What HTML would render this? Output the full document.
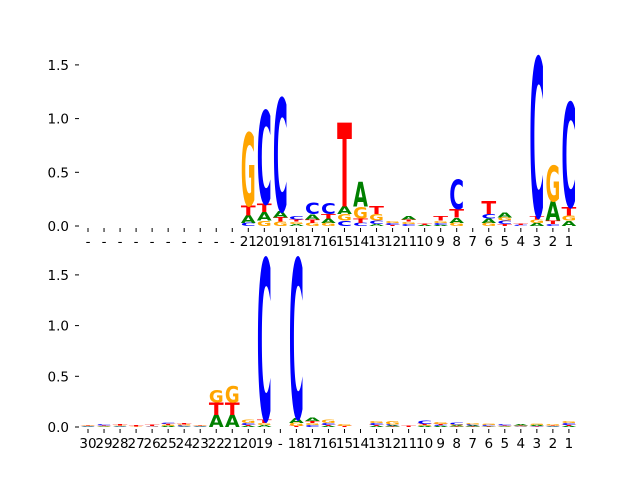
<!DOCTYPE html>
<html><head><meta charset="utf-8">
<style>
html,body{margin:0;padding:0;background:#fff;}
svg{display:block;}
text{font-family:"DejaVu Sans","Liberation Sans",sans-serif;}
</style></head>
<body>
<svg id="chart" width="640" height="480" viewBox="0 0 640 480" xmlns="http://www.w3.org/2000/svg"></svg>
<script>
// ---------- data ----------
const topLabels = ["-","-","-","-","-","-","-","-","-","-","21","20","19","18","17","16","15","14","13","12","11","10","9","8","7","6","5","4","3","2","1"];
const topA = [0,0,0,0,0,0,0,0,0,0,0.07,0.08,0.06,0.02,0.05,0.04,0.07,0.23,0.02,0.0,0.03,0.01,0.01,0.05,0,0.04,0.05,0,0.03,0.18,0.05];
const topC = [0,0,0,0,0,0,0,0,0,0,0.03,0.87,1.05,0.03,0.11,0.10,0.05,0.03,0.03,0.02,0.02,0.0,0.02,0.27,0,0.04,0.03,0.01,1.48,0.02,0.97];
const topG = [0,0,0,0,0,0,0,0,0,0,0.68,0.05,0.04,0.02,0.03,0.03,0.06,0.11,0.06,0.02,0.02,0.0,0.02,0.03,0,0.03,0.03,0,0.03,0.33,0.05];
const topT = [0,0,0,0,0,0,0,0,0,0,0.09,0.08,0.04,0.02,0.03,0.04,0.78,0.04,0.07,0.01,0.02,0.01,0.04,0.08,0,0.12,0.02,0.01,0.03,0.03,0.08];

const botLabels = ["30","29","28","27","26","25","24","23","22","21","20","19","-","18","17","16","15","14","13","12","11","10","9","8","7","6","5","4","3","2","1"];
const botA = [0.005,0.005,0.005,0,0,0.01,0.005,0.005,0.12,0.12,0.01,0.02,0,0.05,0.03,0.01,0,0,0.01,0.01,0,0.01,0.01,0.01,0.01,0.005,0.005,0.01,0.01,0.005,0.01];
const botC = [0.005,0.01,0.005,0,0.005,0.015,0.01,0.005,0,0,0.02,1.59,0,1.57,0.02,0.02,0,0,0.02,0.01,0,0.03,0.01,0.02,0.01,0.01,0.01,0.005,0.005,0.005,0.02];
const botG = [0.005,0.005,0.005,0.005,0.005,0.01,0.01,0.005,0.122,0.16,0.03,0.02,0,0.03,0.02,0.03,0.02,0,0.02,0.03,0,0.01,0.02,0.01,0.01,0.01,0.005,0.005,0.01,0.01,0.02];
const botT = [0.005,0.005,0.01,0.01,0.01,0.01,0.01,0.005,0.121,0.121,0.01,0.03,0,0.01,0.02,0.01,0.01,0,0.01,0.005,0.01,0.01,0.01,0.005,0.005,0.005,0.005,0.005,0.005,0.005,0.01];

const yTicks = [0, 0.5, 1.0, 1.5];
const yTickLabels = ["0.0","0.5","1.0","1.5"];

// ---------- drawing ----------
const NS = "http://www.w3.org/2000/svg";
const svg = document.getElementById("chart");
const colors = {A:"#008000", C:"#0000ff", G:"#ffa500", T:"#ff0000"};
const x0 = 88, dx = 16.03, colW = 14.8;

function mk(tag, attrs, parent){
  const e = document.createElementNS(NS, tag);
  for (const k in attrs) e.setAttribute(k, attrs[k]);
  (parent || svg).appendChild(e);
  return e;
}

function panel(name, baseY, pxPerUnit, labels, A, C, G, T, labelY){
  const g = mk("g", {});
  
  
  const xs = i => x0 + i*dx;
  const ys = v => baseY - v*pxPerUnit;
  yTicks.forEach((v, k) => {
    const t = mk("line", {x1:75, x2:79, y1:ys(v), y2:ys(v), stroke:"#000", "stroke-width":1}, g);
    
    
    const tl = mk("text", {x:69, y:ys(v)+5, "text-anchor":"end", "font-size":"13.5"}, g);
    tl.textContent = yTickLabels[k];
    
    
  });
  labels.forEach((lab, i) => {
    const cx = xs(i);
    const tk = mk("line", {x1:cx, x2:cx, y1:baseY+2, y2:baseY+6, stroke:"#000", "stroke-width":1}, g);
    
    
    const tl = mk("text", {x:cx, y:labelY, "text-anchor":"middle", "font-size":"13.5"}, g);
    tl.textContent = lab;
    
    
    const stack = [["A",A[i]],["C",C[i]],["G",G[i]],["T",T[i]]].filter(s => s[1] > 0).sort((a,b) => a[1]-b[1]);
    let acc = 0;
    stack.forEach(([L, v]) => {
      const yb = ys(acc);
      const h = v*pxPerUnit;
      acc += v;
      const sx = colW/100, sy = h/73;
      const gg = mk("g", {transform:`translate(${cx-colW/2},${yb}) scale(${sx},${sy})`}, g);
      const t = mk("text", {x:0, y:0, "font-size":"100", "font-weight":"bold", fill:colors[L], textLength:"100", lengthAdjust:"spacingAndGlyphs"}, gg);
      t.textContent = L;
      
      
    });
  });
}

panel("top-logo-panel", 226, 107.4, topLabels, topA, topC, topG, topT, 246);
panel("bottom-logo-panel", 427, 101.4, botLabels, botA, botC, botG, botT, 448);
</script>
</body></html>
